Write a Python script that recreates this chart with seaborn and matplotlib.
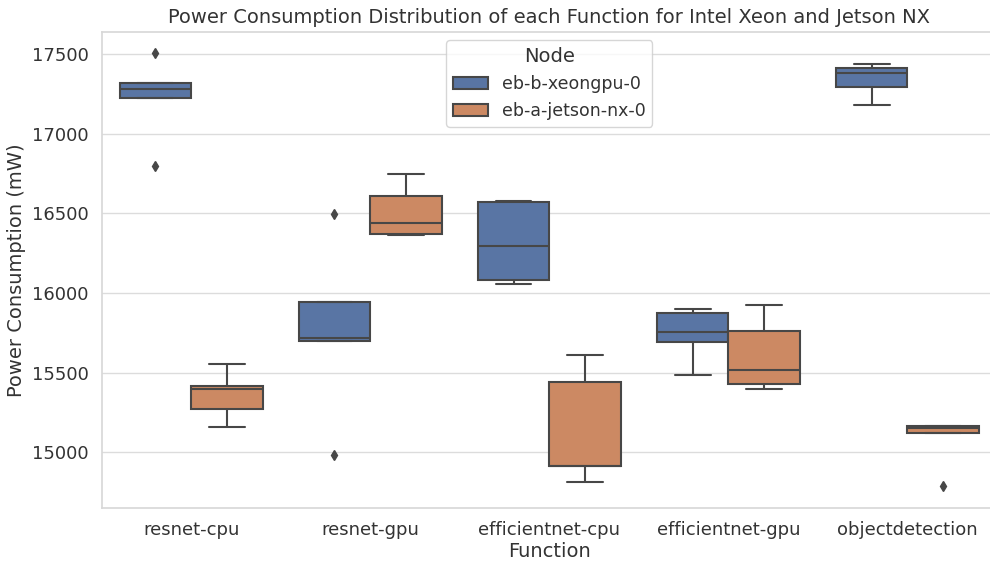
import matplotlib
matplotlib.use("Agg")
import matplotlib.pyplot as plt
import seaborn as sns
import pandas as pd

functions = ["resnet-cpu", "resnet-gpu", "efficientnet-cpu", "efficientnet-gpu", "objectdetection"]
nodes = ["eb-b-xeongpu-0", "eb-a-jetson-nx-0"]

# power samples (mW) per function for each node
xeon_resnet_cpu = [16800, 17222, 17279, 17318, 17505]
xeon_resnet_gpu = [14986, 15699, 15721, 15947, 16495]
xeon_efficientnet_cpu = [16060, 16081, 16294, 16572, 16580]
xeon_efficientnet_gpu = [15485, 15692, 15759, 15874, 15899]
xeon_objectdetection = [17182, 17291, 17379, 17410, 17435]

jetson_resnet_cpu = [15161, 15274, 15398, 15420, 15554]
jetson_resnet_gpu = [16363, 16370, 16442, 16610, 16748]
jetson_efficientnet_cpu = [14816, 14912, 14917, 15441, 15611]
jetson_efficientnet_gpu = [15398, 15427, 15519, 15763, 15924]
jetson_objectdetection = [14789, 15123, 15156, 15163, 15169]

xeon = [xeon_resnet_cpu, xeon_resnet_gpu, xeon_efficientnet_cpu,
        xeon_efficientnet_gpu, xeon_objectdetection]
jetson = [jetson_resnet_cpu, jetson_resnet_gpu, jetson_efficientnet_cpu,
          jetson_efficientnet_gpu, jetson_objectdetection]

rows = []
for f, xv, jv in zip(functions, xeon, jetson):
    for v in xv:
        rows.append({"Function": f, "Node": nodes[0], "Power": v})
    for v in jv:
        rows.append({"Function": f, "Node": nodes[1], "Power": v})
df = pd.DataFrame(rows)

sns.set_theme(style="whitegrid", rc={"grid.color": "#dcdcdc", "axes.edgecolor": "#d8d8d8",
                                     "text.color": "#333333", "axes.labelcolor": "#333333",
                                     "xtick.color": "#333333", "ytick.color": "#333333"})
plt.rcParams["font.family"] = ["DejaVu Sans"]

fig = plt.figure(figsize=(9.9, 5.61), dpi=100)
ax = fig.add_axes([0.1027, 0.095, 0.9044, 0.8485])

line_gray = "#474747"
sns.boxplot(data=df, x="Function", y="Power", hue="Node", order=functions,
            hue_order=nodes, palette="deep", saturation=0.75, linewidth=1.5,
            linecolor=line_gray, ax=ax,
            flierprops=dict(marker="d", markerfacecolor=line_gray,
                            markeredgecolor=line_gray, markersize=5))

ax.set_title("Power Consumption Distribution of each Function for Intel Xeon and Jetson NX",
             fontsize=14)
ax.set_xlabel("Function", fontsize=14, labelpad=2)
ax.set_ylabel("Power Consumption (mW)", fontsize=14)
ax.tick_params(axis="both", labelsize=13)
leg = ax.legend(title="Node", loc="upper center", fontsize=12.5, title_fontsize=14)

fig.savefig("out.png", dpi=100)
